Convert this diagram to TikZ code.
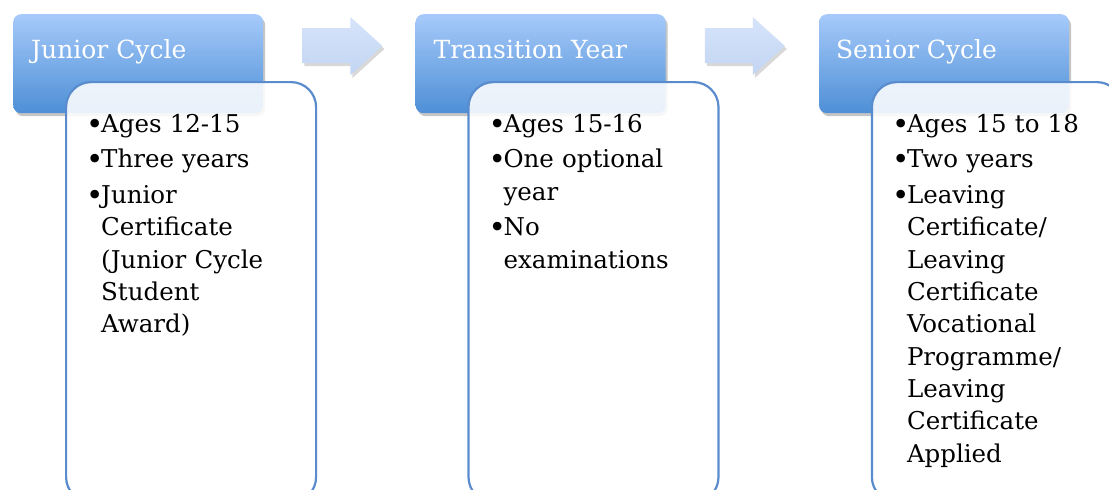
\documentclass[tikz,border=0pt]{standalone}
\usepackage{fontspec}
\setmainfont{DejaVu Serif}
\usetikzlibrary{positioning,shadows}

\definecolor{headtop}{RGB}{166,202,250}
\definecolor{headbot}{RGB}{78,143,214}
\definecolor{boxline}{RGB}{90,140,205}
\definecolor{arrowtop}{RGB}{214,228,250}
\definecolor{arrowbot}{RGB}{194,213,243}

\newcommand{\stagebullet}{\makebox[11pt][l]{\hspace*{-4pt}\makebox[0pt][l]{\raisebox{-2pt}{\scalebox{1.2}{•}}}}}
\newcommand{\stageindent}{\hspace*{11pt}}

\tikzset{
	header/.style={rounded corners=8pt, minimum width=250pt, minimum height=99pt,
		top color=headtop, bottom color=headbot, inner sep=0pt,
		drop shadow={opacity=0.45, shadow xshift=2pt, shadow yshift=-3pt}},
	headtext/.style={anchor=base west, text=white, inner sep=0pt,
		font=\fontsize{25}{30}\selectfont},
	listbox/.style={anchor=north west, rounded corners=25pt, minimum width=250pt,
		minimum height=420pt, draw=boxline, line width=2.2pt, fill=white,
		fill opacity=0.88, inner sep=0pt},
	listtext/.style={anchor=base west, text width=230pt, align=left, inner sep=0pt,
		font=\fontsize{24.5}{32.3}\selectfont},
	stagearrow/.style={top color=arrowtop, bottom color=arrowbot,
		drop shadow={opacity=0.3, shadow xshift=2pt, shadow yshift=-3pt}}
}

\begin{document}
\begin{tikzpicture}[x=1pt,y=-1pt]
	\useasboundingbox (0,0) rectangle (1109,490);
	\clip (0,0) rectangle (1109,490);
	\fill[white] (0,0) rectangle (1109,490);

	% headers
	\node [header, anchor=north west] (jc) at (13,14) {};
	\node [header, right=152pt of jc] (ty) {};
	\node [header, right=153pt of ty] (sc) {};

	\node [headtext] (jclabel) at ([xshift=18pt,yshift=-44pt]jc.north west) {Junior Cycle};
	\node [headtext] (tylabel) at ([xshift=18pt,yshift=-44pt]ty.north west) {Transition Year};
	\node [headtext] (sclabel) at ([xshift=17pt,yshift=-44pt]sc.north west) {Senior Cycle};

	% arrows between stages
	\foreach \h in {jc,ty}
		\path [stagearrow, shift={(\h.north east)}]
			(39,14) -- (87,14) -- (87,3) -- (119,32) -- (87,61) -- (87,49) -- (39,49) -- cycle;

	% lists
	\node [listbox] (jcbox) at ([xshift=52pt,yshift=-67pt]jc.north west) {};
	\node [listbox] (tybox) at ([xshift=52pt,yshift=-67pt]ty.north west) {};
	\node [listbox] (scbox) at ([xshift=52pt,yshift=-67pt]sc.north west) {};

	\node [listtext] (jclist) at ([xshift=25pt,yshift=-51pt]jcbox.north west) {%
		\stagebullet Ages 12-15\\[3.5pt]
		\stagebullet Three years\\[3.5pt]
		\stagebullet Junior\\
		\stageindent Certificate\\
		\stageindent (Junior Cycle\\
		\stageindent Student\\
		\stageindent Award)};
	\node [listtext] (tylist) at ([xshift=25pt,yshift=-51pt]tybox.north west) {%
		\stagebullet Ages 15-16\\[3.5pt]
		\stagebullet One optional\\
		\stageindent year\\[3.5pt]
		\stagebullet No\\
		\stageindent examinations};
	\node [listtext] (sclist) at ([xshift=25pt,yshift=-51pt]scbox.north west) {%
		\stagebullet Ages 15 to 18\\[3.5pt]
		\stagebullet Two years\\[3.5pt]
		\stagebullet Leaving\\
		\stageindent Certificate/\\
		\stageindent Leaving\\
		\stageindent Certificate\\
		\stageindent Vocational\\
		\stageindent Programme/\\
		\stageindent Leaving\\
		\stageindent Certificate\\
		\stageindent Applied};
\end{tikzpicture}
\end{document}
